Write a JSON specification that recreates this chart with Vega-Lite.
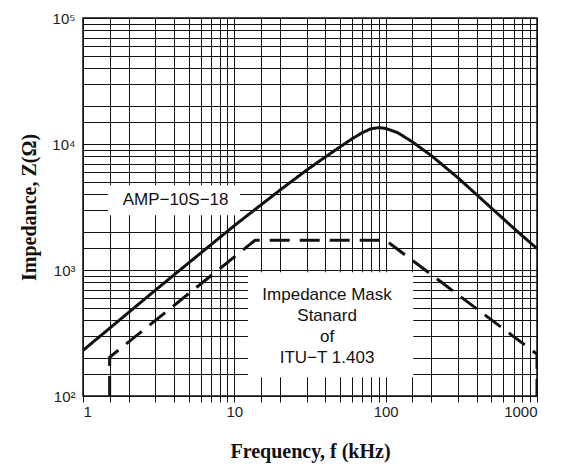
{
  "$schema": "https://vega.github.io/schema/vega-lite/v6.json",
  "width": 454,
  "height": 378,
  "autosize": {"type": "none"},
  "padding": {"left": 83, "top": 18, "right": 25, "bottom": 72},
  "background": "white",
  "config": {
    "view": {"stroke": "#111", "strokeWidth": 1.5},
    "axis": {
      "gridColor": "#111",
      "gridOpacity": 1,
      "gridWidth": 1,
      "domainColor": "#111",
      "tickColor": "#111",
      "labelFont": "Liberation Sans",
      "labelFontSize": 15,
      "labelColor": "#222",
      "titleFont": "Liberation Serif",
      "titleFontSize": 20,
      "titleFontWeight": "bold",
      "titleColor": "#111"
    }
  },
  "layer": [
    {
      "data": {"values": [
        {"f1": 1.46, "f2": 10.9, "z1": 2720, "z2": 4710},
        {"f1": 12.3, "f2": 152, "z1": 141, "z2": 960}
      ]},
      "mark": {"type": "rect", "fill": "white", "stroke": null},
      "encoding": {
        "x": {"field": "f1", "type": "quantitative", "scale": {"type": "log", "domain": [1, 1000], "nice": false}},
        "x2": {"field": "f2"},
        "y": {"field": "z1", "type": "quantitative", "scale": {"type": "log", "domain": [100, 100000], "nice": false}},
        "y2": {"field": "z2"}
      }
    },
    {
      "data": {"values": [
        {"series": "AMP-10S-18", "o": 1, "f": 1, "z": 230},
        {"series": "AMP-10S-18", "o": 2, "f": 2, "z": 460},
        {"series": "AMP-10S-18", "o": 3, "f": 3, "z": 690},
        {"series": "AMP-10S-18", "o": 4, "f": 5, "z": 1140},
        {"series": "AMP-10S-18", "o": 5, "f": 10, "z": 2250},
        {"series": "AMP-10S-18", "o": 6, "f": 20, "z": 4300},
        {"series": "AMP-10S-18", "o": 7, "f": 30, "z": 6200},
        {"series": "AMP-10S-18", "o": 8, "f": 40, "z": 7900},
        {"series": "AMP-10S-18", "o": 9, "f": 50, "z": 9500},
        {"series": "AMP-10S-18", "o": 10, "f": 60, "z": 11000},
        {"series": "AMP-10S-18", "o": 11, "f": 70, "z": 12300},
        {"series": "AMP-10S-18", "o": 12, "f": 80, "z": 13200},
        {"series": "AMP-10S-18", "o": 13, "f": 90, "z": 13500},
        {"series": "AMP-10S-18", "o": 14, "f": 100, "z": 13300},
        {"series": "AMP-10S-18", "o": 15, "f": 120, "z": 12300},
        {"series": "AMP-10S-18", "o": 16, "f": 150, "z": 10400},
        {"series": "AMP-10S-18", "o": 17, "f": 200, "z": 8100},
        {"series": "AMP-10S-18", "o": 18, "f": 300, "z": 5400},
        {"series": "AMP-10S-18", "o": 19, "f": 500, "z": 3100},
        {"series": "AMP-10S-18", "o": 20, "f": 700, "z": 2150},
        {"series": "AMP-10S-18", "o": 21, "f": 1000, "z": 1480},
        {"series": "Mask", "o": 1, "f": 1.5, "z": 100},
        {"series": "Mask", "o": 2, "f": 1.5, "z": 203},
        {"series": "Mask", "o": 3, "f": 13.7, "z": 1720},
        {"series": "Mask", "o": 4, "f": 100, "z": 1720},
        {"series": "Mask", "o": 5, "f": 1000, "z": 215},
        {"series": "Mask", "o": 6, "f": 1000, "z": 100}
      ]},
      "mark": {"type": "line", "strokeWidth": 3, "clip": true},
      "encoding": {
        "x": {
          "field": "f", "type": "quantitative",
          "scale": {"type": "log", "domain": [1, 1000], "nice": false},
          "axis": {
            "title": "Frequency, f (kHz)",
            "titlePadding": 22,
            "values": [1, 1.5, 2, 3, 4, 5, 6, 7, 8, 9, 10, 15, 20, 30, 40, 50, 60, 70, 80, 90, 100, 150, 200, 300, 400, 500, 600, 700, 800, 900, 1000],
            "labelExpr": "indexof([1, 10, 100, 1000], datum.value) >= 0 ? format(datum.value, 'd') : ''",
            "tickSize": 6,
            "tickWidth": 1,
            "labelPadding": 2,
            "domain": false
          }
        },
        "y": {
          "field": "z", "type": "quantitative",
          "scale": {"type": "log", "domain": [100, 100000], "nice": false},
          "axis": {
            "title": "Impedance, Z(Ω)",
            "titlePadding": 12,
            "values": [100, 150, 200, 300, 400, 500, 600, 700, 800, 900, 1000, 1500, 2000, 3000, 4000, 5000, 6000, 7000, 8000, 9000, 10000, 15000, 20000, 30000, 40000, 50000, 60000, 70000, 80000, 90000, 100000],
            "labelExpr": "datum.value == 100 ? '10²' : datum.value == 1000 ? '10³' : datum.value == 10000 ? '10⁴' : datum.value == 100000 ? '10⁵' : ''",
            "tickSize": 0,
            "labelPadding": 8,
            "domain": false
          }
        },
        "order": {"field": "o", "type": "quantitative"},
        "color": {"field": "series", "type": "nominal", "scale": {"range": ["#111111", "#111111"]}, "legend": null},
        "strokeDash": {"field": "series", "type": "nominal", "scale": {"domain": ["AMP-10S-18", "Mask"], "range": [[1, 0], [20, 10]]}, "legend": null}
      }
    },
    {
      "data": {"values": [
        {"f": 4.09, "z": 3580, "label": "AMP−10S−18"},
        {"f": 41, "z": 630, "label": "Impedance Mask\nStanard\nof\nITU−T 1.403"}
      ]},
      "mark": {"type": "text", "font": "Liberation Sans", "fontSize": 17, "color": "#111", "align": "center", "baseline": "middle", "lineBreak": "\n", "lineHeight": 21},
      "encoding": {
        "x": {"field": "f", "type": "quantitative", "scale": {"type": "log", "domain": [1, 1000], "nice": false}},
        "y": {"field": "z", "type": "quantitative", "scale": {"type": "log", "domain": [100, 100000], "nice": false}},
        "text": {"field": "label"}
      }
    }
  ]
}
